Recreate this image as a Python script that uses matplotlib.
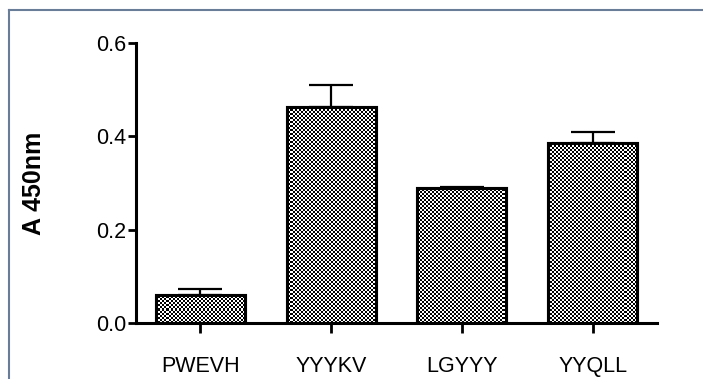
import numpy as np
import matplotlib
matplotlib.use("Agg")
import matplotlib.pyplot as plt
from matplotlib.lines import Line2D

plt.rcParams['font.family'] = ['Liberation Sans', 'DejaVu Sans']

peptides = ["PWEVH", "YYYKV", "LGYYY", "YYQLL"]
absorbance = [0.060, 0.462, 0.289, 0.385]
sem = [0.013, 0.048, 0.003, 0.024]
y_ticks = [0.0, 0.2, 0.4, 0.6]
y_label = "A 450nm"

W, H, DPI = 703, 379, 100
fig = plt.figure(figsize=(W / DPI, H / DPI), dpi=DPI)
ax = fig.add_axes([136 / W, 1 - 323 / H, (657 - 136) / W, (323 - 43) / H])

x = np.arange(len(peptides))
xlim = (-0.49, len(peptides) - 1 + 0.49)
ylim = (0.0, 0.6)

# upper error bars only, drawn beneath the bars
ax.errorbar(x, absorbance, yerr=[np.zeros(len(sem)), sem], fmt='none',
            ecolor='black', elinewidth=1.6, capsize=16, capthick=1.6, zorder=1)

bars = ax.bar(x, absorbance, width=0.68, facecolor='white', edgecolor='black',
              linewidth=2.2, zorder=2)

# fine checkerboard fill clipped to each bar
ny, nx = 280, 521
yy, xx = np.mgrid[0:ny, 0:nx]
checker = ((yy // 2 + xx // 2) % 2).astype(float)
for b in bars:
    im = ax.imshow(checker, cmap='gray', vmin=0, vmax=1, extent=(*xlim, *ylim),
                   aspect='auto', interpolation='nearest', zorder=2.5)
    im.set_clip_path(b)
for b in bars:
    ax.add_patch(plt.Rectangle(b.get_xy(), b.get_width(), b.get_height(),
                               fill=False, edgecolor='black', linewidth=2.2,
                               zorder=3))

ax.set_xlim(*xlim)
ax.set_ylim(*ylim)
ax.set_xticks(x)
ax.set_xticklabels(peptides, fontsize=15.5)
ax.set_yticks(y_ticks)
ax.set_yticklabels([f"{v:.1f}" for v in y_ticks], fontsize=15.5)
ax.tick_params(axis='x', length=7, width=2, pad=17)
ax.tick_params(axis='y', length=6, width=2, pad=1)

for s in ['top', 'right']:
    ax.spines[s].set_visible(False)
for s in ['left', 'bottom']:
    ax.spines[s].set_linewidth(2.2)

ax.set_ylabel(y_label, fontsize=18, fontweight='bold', labelpad=36)

# outer frame lines along the top and left edges
frame_c = '#6a7d98'
fig.add_artist(Line2D([9 / W, 9 / W], [0, 1 - 10 / H], color=frame_c, lw=1.5,
                      transform=fig.transFigure))
fig.add_artist(Line2D([9 / W, 1], [1 - 10 / H, 1 - 10 / H], color=frame_c, lw=1.5,
                      transform=fig.transFigure))

fig.savefig("out.png", dpi=DPI)
